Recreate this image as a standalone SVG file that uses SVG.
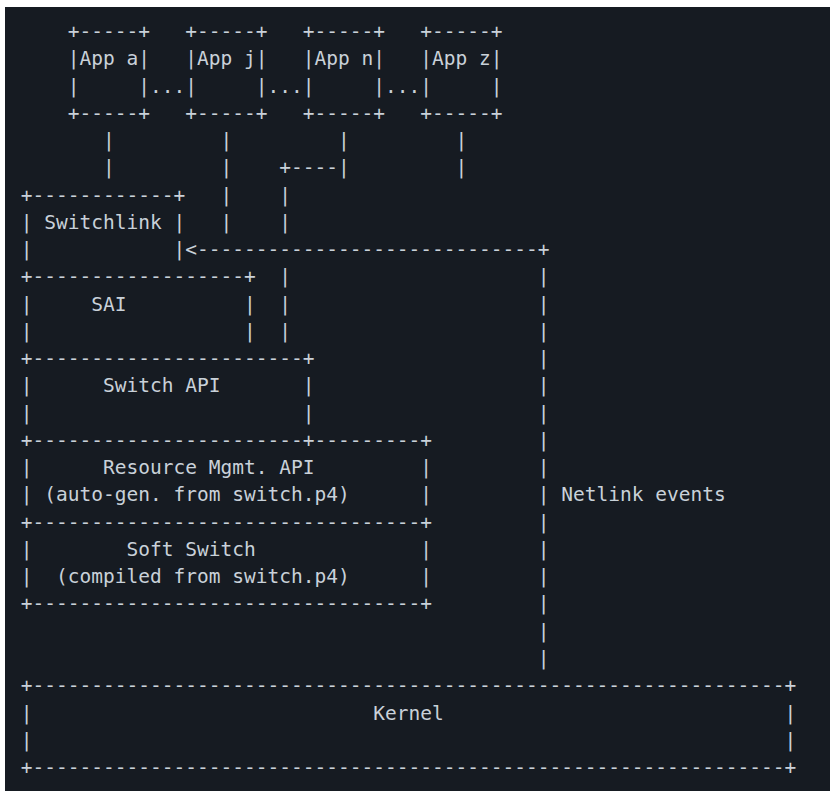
<svg xmlns="http://www.w3.org/2000/svg" width="830" height="791" viewBox="0 0 830 791" xml:space="preserve">
<style>
text { font-family: "DejaVu Sans Mono", "Liberation Mono", monospace; font-size: 19.52px; fill: #c9d1d9; white-space: pre; }
</style>
<rect x="0" y="0" width="830" height="791" fill="#ffffff"/>
<rect x="5" y="7" width="825" height="784" fill="#161b22"/>
<g id="app-a">
<text x="67.8" y="38">+-----+</text>
<text x="67.8" y="65.26">|App a|</text>
<text x="67.8" y="92.52">|     |</text>
<text x="67.8" y="119.78">+-----+</text>
</g>
<g id="app-j">
<text x="185.3" y="38">+-----+</text>
<text x="185.3" y="65.26">|App j|</text>
<text x="185.3" y="92.52">|     |</text>
<text x="185.3" y="119.78">+-----+</text>
</g>
<g id="app-n">
<text x="302.8" y="38">+-----+</text>
<text x="302.8" y="65.26">|App n|</text>
<text x="302.8" y="92.52">|     |</text>
<text x="302.8" y="119.78">+-----+</text>
</g>
<g id="app-z">
<text x="420.3" y="38">+-----+</text>
<text x="420.3" y="65.26">|App z|</text>
<text x="420.3" y="92.52">|     |</text>
<text x="420.3" y="119.78">+-----+</text>
</g>
<g id="ellipses">
<text x="150.05" y="92.52">...</text>
<text x="267.55" y="92.52">...</text>
<text x="385.05" y="92.52">...</text>
</g>
<g id="switchlink">
<text x="20.8" y="201.56">+------------+</text>
<text x="20.8" y="228.82">| Switchlink |</text>
<text x="20.8" y="256.08">|            |</text>
</g>
<g id="sai">
<text x="20.8" y="283.34">+------------------+</text>
<text x="20.8" y="310.6">|     SAI          |</text>
<text x="20.8" y="337.86">|                  |</text>
</g>
<g id="switch-api">
<text x="20.8" y="365.12">+-----------------------+</text>
<text x="20.8" y="392.38">|      Switch API       |</text>
<text x="20.8" y="419.64">|                       |</text>
</g>
<g id="resource-mgmt-api">
<text x="20.8" y="446.9">+-----------------------+---------+</text>
<text x="20.8" y="474.16">|      Resource Mgmt. API         |</text>
<text x="20.8" y="501.42">| (auto-gen. from switch.p4)      |</text>
<text x="20.8" y="528.68">+---------------------------------+</text>
</g>
<g id="soft-switch">
<text x="20.8" y="555.94">|        Soft Switch              |</text>
<text x="20.8" y="583.2">|  (compiled from switch.p4)      |</text>
<text x="20.8" y="610.46">+---------------------------------+</text>
</g>
<g id="kernel">
<text x="20.8" y="692.24">+----------------------------------------------------------------+</text>
<text x="20.8" y="719.5">|                             Kernel                             |</text>
<text x="20.8" y="746.76">|                                                                |</text>
<text x="20.8" y="774.02">+----------------------------------------------------------------+</text>
</g>
<g id="connectors">
<text x="103.05" y="147.04">|</text>
<text x="103.05" y="174.3">|</text>
<text x="220.55" y="147.04">|</text>
<text x="220.55" y="174.3">|</text>
<text x="220.55" y="201.56">|</text>
<text x="220.55" y="228.82">|</text>
<text x="338.05" y="147.04">|</text>
<text x="279.3" y="174.3">+----|</text>
<text x="279.3" y="201.56">|</text>
<text x="279.3" y="228.82">|</text>
<text x="279.3" y="283.34">|</text>
<text x="279.3" y="310.6">|</text>
<text x="279.3" y="337.86">|</text>
<text x="455.55" y="147.04">|</text>
<text x="455.55" y="174.3">|</text>
<text x="185.3" y="256.08">&lt;-----------------------------+</text>
<text x="537.8" y="283.34">|</text>
<text x="537.8" y="310.6">|</text>
<text x="537.8" y="337.86">|</text>
<text x="537.8" y="365.12">|</text>
<text x="537.8" y="392.38">|</text>
<text x="537.8" y="419.64">|</text>
<text x="537.8" y="446.9">|</text>
<text x="537.8" y="474.16">|</text>
<text x="537.8" y="501.42">|</text>
<text x="537.8" y="528.68">|</text>
<text x="537.8" y="555.94">|</text>
<text x="537.8" y="583.2">|</text>
<text x="537.8" y="610.46">|</text>
<text x="537.8" y="637.72">|</text>
<text x="537.8" y="664.98">|</text>
<text x="561.3" y="501.42">Netlink events</text>
</g>
</svg>
